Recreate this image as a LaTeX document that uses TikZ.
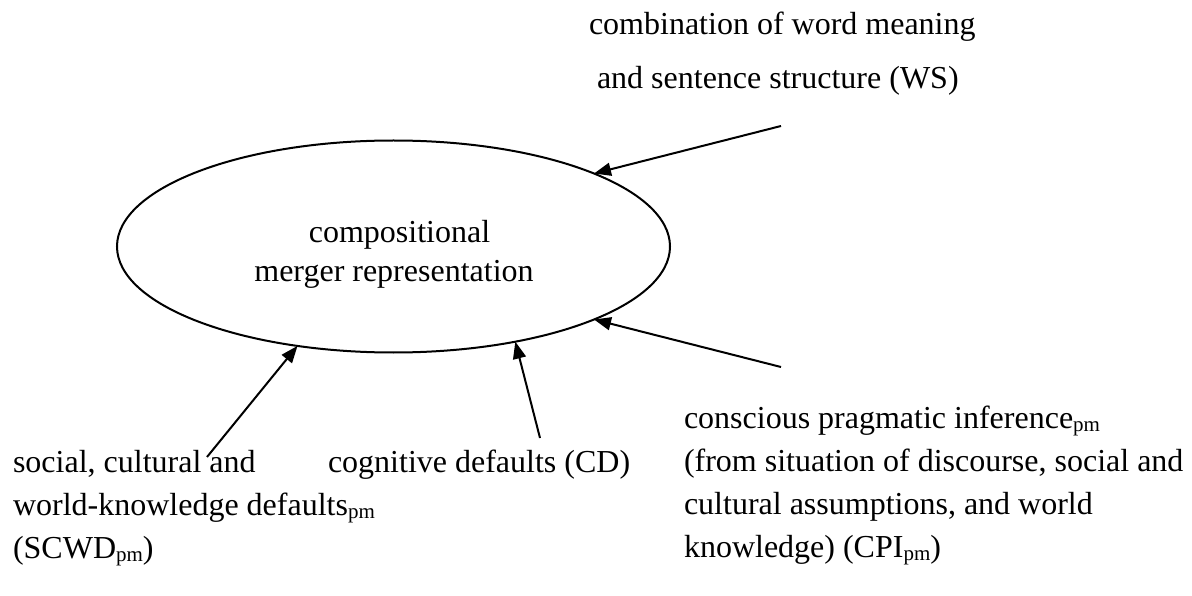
\documentclass[tikz,border=0pt]{standalone}
\usepackage{fontspec}
\setmainfont{Liberation Serif}
\usetikzlibrary{shapes.geometric,arrows.meta}
\newcommand{\pmsub}{\raisebox{-3pt}{\fontsize{21}{21}\selectfont pm}}
\begin{document}
\begin{tikzpicture}[x=1pt,y=-1pt,
  txt/.style={inner sep=0pt,outer sep=0pt,font=\fontsize{32}{39}\selectfont},
  arr/.style={line width=2pt,-{Triangle[length=17pt,width=13pt]}},
  ellbox/.style={draw,line width=2pt,ellipse,minimum width=553pt,minimum height=212pt,inner sep=0pt,outer sep=0pt}]
\useasboundingbox (0,0) rectangle (1192,596);
\node[ellbox] (ell) at (393.5,246.5) {};
\node[txt,anchor=base] (in1) at (399.5,243) {compositional};
\node[txt,anchor=base] (in2) at (394,282) {merger representation};
% WS
\node[txt,anchor=base west] (ws1) at (589,35) {combination of word meaning};
\node[txt,anchor=base west] (ws2) at (597,89) {and sentence structure (WS)};
% SCWD
\node[txt,anchor=base west] (sc1) at (13,472) {social, cultural and};
\node[txt,anchor=base west] (sc2) at (13,515) {world-knowledge defaults\pmsub};
\node[txt,anchor=base west] (sc3) at (13,558) {(SCWD\pmsub)};
% CD
\node[txt,anchor=base west] (cd1) at (328,472) {cognitive defaults (CD)};
% CPI
\node[txt,anchor=base west] (cp1) at (684,428) {conscious pragmatic inference\pmsub};
\node[txt,anchor=base west] (cp2) at (684,471) {(from situation of discourse, social and};
\node[txt,anchor=base west] (cp3) at (684,514) {cultural assumptions, and world};
\node[txt,anchor=base west] (cp4) at (684,557) {knowledge) (CPI\pmsub)};
% arrow start points
\coordinate (wsS) at (781,126);
\coordinate (cpS) at (781,367);
\coordinate (scS) at (207,457);
\coordinate (cdS) at (540,438);
\draw[arr] (wsS) -- (ell.20.76);
\draw[arr] (cpS) -- (ell.-20.2);
\draw[arr] (scS) -- (ell.-134.4);
\draw[arr] (cdS) -- (ell.-38.6);
\end{tikzpicture}
\end{document}
